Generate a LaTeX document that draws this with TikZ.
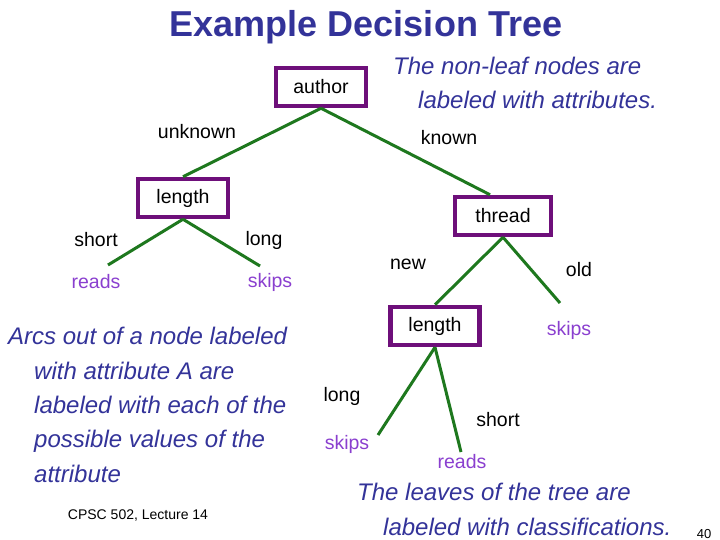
\documentclass[tikz,border=0pt]{standalone}
\usepackage{fontspec}
\setmainfont{Liberation Sans}
\begin{document}
\begin{tikzpicture}[x=1pt,y=-1pt,
  attr/.style={draw=attrc,line width=4.5pt,minimum height=38pt,inner sep=0pt,font=\fontsize{19.5}{22}\selectfont},
  lbl/.style={font=\fontsize{19.5}{22}\selectfont},
  leaf/.style={text=leafc,font=\fontsize{19.5}{22}\selectfont},
  note/.style={text=notec,font=\itshape\fontsize{24}{34.3}\selectfont,align=left,inner sep=0pt},
  edge/.style={draw=edgec,line width=3pt}]
\definecolor{attrc}{HTML}{6E0F7A}
\definecolor{leafc}{HTML}{8A3FCF}
\definecolor{notec}{HTML}{333399}
\definecolor{edgec}{HTML}{1E781E}
\useasboundingbox (0,0) rectangle (720,540);
\node[font=\bfseries\fontsize{36}{40}\selectfont,text=notec] (title) at (366,27) {Example Decision Tree};
\node[attr,minimum width=90pt] (author) at (321,87) {author};
\node[attr,minimum width=90pt] (len1) at (183,198) {length};
\node[attr,minimum width=96pt] (thread) at (503,216) {thread};
\node[attr,minimum width=89pt] (len2) at (435,326) {length};
\coordinate (l1) at (108,265);
\coordinate (l2) at (260,266);
\coordinate (l3) at (560,303);
\coordinate (l4) at (378,435);
\coordinate (l5) at (461,452);
\draw[edge] (author.south) -- (len1.north);
\draw[edge] (author.south) -- ([xshift=-13pt]thread.north);
\draw[edge] (len1.south) -- (l1);
\draw[edge] (len1.south) -- (l2);
\draw[edge] (thread.south) -- (len2.north);
\draw[edge] (thread.south) -- (l3);
\draw[edge] (len2.south) -- (l4);
\draw[edge] (len2.south) -- (l5);
\node[lbl] (eunk) at (197,132) {unknown};
\node[lbl] (ekn) at (449,138) {known};
\node[lbl] (eshort1) at (96,240) {short};
\node[lbl] (elong1) at (264,240) {long};
\node[lbl] (enew) at (408,264) {new};
\node[lbl] (eold) at (579,270) {old};
\node[lbl] (elong2) at (342,396) {long};
\node[lbl] (eshort2) at (498,420) {short};
\node[leaf] (r1) at (96,282) {reads};
\node[leaf] (s1) at (270,282) {skips};
\node[leaf] (s2) at (569,330) {skips};
\node[leaf] (s3) at (347,444) {skips};
\node[leaf] (r2) at (462,462) {reads};
\node[note,anchor=base west] (n1) at (393,109) {The non-leaf nodes are\\ \hspace*{25pt}labeled with attributes.};
\node[note,anchor=base west] (n2) at (8,482) {Arcs out of a node labeled\\ \hspace*{26pt}with attribute A are\\ \hspace*{26pt}labeled with each of the\\ \hspace*{26pt}possible values of the\\ \hspace*{26pt}attribute};
\node[note,anchor=base west] (n3) at (357,535) {The leaves of the tree are\\ \hspace*{26pt}labeled with classifications.};
\node[font=\fontsize{14}{16}\selectfont] (foot) at (138,516) {CPSC 502, Lecture 14};
\node[font=\fontsize{13}{16}\selectfont] (pg) at (704,534) {40};
\end{tikzpicture}
\end{document}
